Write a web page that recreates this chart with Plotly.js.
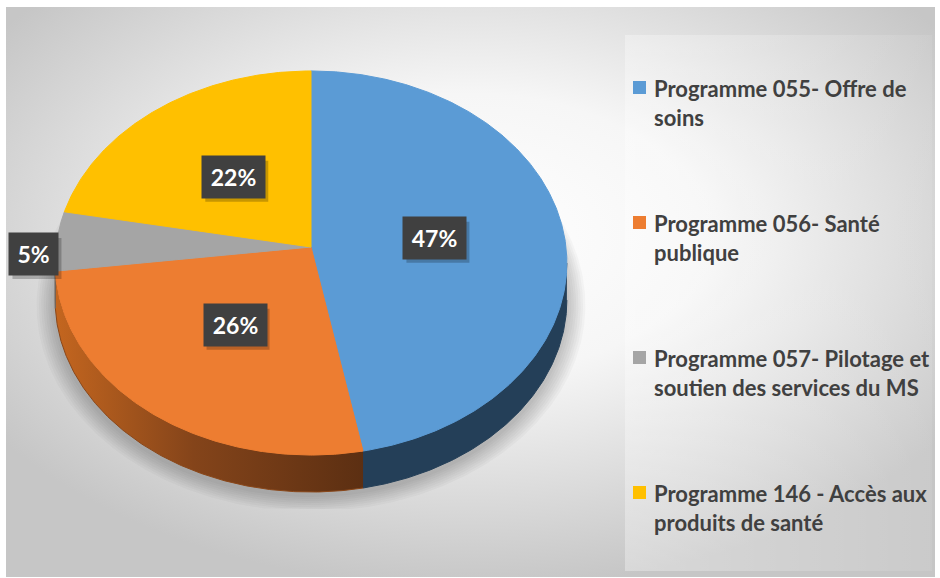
<!DOCTYPE html>
<html>
<head>
<meta charset="utf-8">
<script src="https://cdn.plot.ly/plotly-3.0.1.min.js"></script>
<style>html,body{margin:0;padding:0;background:#fff;}#chart{width:940px;height:578px;}</style>
</head>
<body>
<div id="chart"></div>
<script>
// ---- data ----
const categories = [
  'Programme 055- Offre de<br>soins',
  'Programme 056- Santé<br>publique',
  'Programme 057- Pilotage et<br>soutien des services du MS',
  'Programme 146 - Accès aux<br>produits de santé'
];
const shares = [47, 26, 5, 22];
const topColors = ['#5b9bd5', '#ed7d31', '#a5a5a5', '#ffc000'];
const sideColors = ['#243f58', '#8a4719', '#6b6b6b', '#a07800'];

// ---- geometry (3D perspective pie) ----
const CX = 311, CY = 247, A = 255, B = 190.7, K = -0.0833, DEPTH = 37;
function proj(deg, r, dy) {
  const t = deg * Math.PI / 180;
  const X = r * Math.sin(t), Y = -r * Math.cos(t);
  const d = 1 + K * Y;
  return [CX + A * X / d, CY + B * Y / d + (dy || 0)];
}
function arc(a0, a1, r, dy) {
  const pts = [];
  const n = Math.max(2, Math.ceil(Math.abs(a1 - a0) / 0.5));
  for (let i = 0; i <= n; i++) pts.push(proj(a0 + (a1 - a0) * i / n, r, dy));
  return pts;
}
let thR = 90, thL = 270, maxX = -1e9, minX = 1e9;
for (let th = 0; th < 360; th += 0.1) {
  const p = proj(th, 1, 0);
  if (p[0] > maxX) { maxX = p[0]; thR = th; }
  if (p[0] < minX) { minX = p[0]; thL = th; }
}

const total = shares.reduce((s, v) => s + v, 0);
const traces = [];

// soft shadow under the pie
for (let k = 8; k >= 1; k--) {
  const r = 1 + k * 0.009;
  const pts = arc(0, 360, r, DEPTH + 3).map(p => [p[0], Math.min(p[1], 509)]);
  traces.push({
    x: pts.map(p => p[0]), y: pts.map(p => p[1]), mode: 'lines', fill: 'toself',
    fillcolor: 'rgba(0,0,0,0.028)', line: {width: 0}, hoverinfo: 'skip'
  });
}

// side walls
let acc = 0;
const bounds = shares.map(v => { const a0 = acc / total * 360; acc += v; return [a0, acc / total * 360]; });
bounds.forEach(([a0, a1], i) => {
  const s = Math.max(a0, thR), e = Math.min(a1, thL);
  if (e <= s) return;
  const pts = arc(s, e, 1, 0).concat(arc(e, s, 1, DEPTH));
  const tr = {
    x: pts.map(p => p[0]), y: pts.map(p => p[1]), mode: 'lines', fill: 'toself',
    fillcolor: sideColors[i], line: {width: 1, color: sideColors[i]}, hoverinfo: 'skip'
  };
  if (i === 1) {
    tr.fillgradient = {type: 'horizontal', colorscale: [[0, '#c4661f'], [0.45, '#84441a'], [1, '#5c2f12']]};
  }
  traces.push(tr);
});

// top faces
bounds.forEach(([a0, a1], i) => {
  const pts = [[CX, CY]].concat(arc(a0, a1, 1, 0)).concat([[CX, CY]]);
  traces.push({
    x: pts.map(p => p[0]), y: pts.map(p => p[1]), mode: 'lines', fill: 'toself',
    fillcolor: topColors[i], line: {width: 1, color: topColors[i]},
    name: categories[i].replace('<br>', ' '), hoverinfo: 'skip'
  });
});

// data labels (dark boxes with drop shadow)
const annotations = [];
const shapes = [];
bounds.forEach(([a0, a1], i) => {
  const mid = (a0 + a1) / 2;
  const outside = shares[i] < 10;
  const p = proj(mid, outside ? 1.09 : 0.49, outside ? 14 : 0);
  const txt = Math.round(shares[i] / total * 100) + '%';
  const w = 14 * txt.length + 7;
  const bw = w + 14, bh = 41;
  shapes.push({type: 'rect', xref: 'x', yref: 'y', layer: 'above',
    x0: p[0] - bw / 2 + 3, x1: p[0] + bw / 2 + 3, y0: p[1] - bh / 2 + 4, y1: p[1] + bh / 2 + 4,
    fillcolor: 'rgba(0,0,0,0.22)', line: {width: 0}});
  annotations.push({x: p[0], y: p[1], xref: 'x', yref: 'y', showarrow: false,
    width: w, borderpad: 7, xanchor: 'center', yanchor: 'middle',
    text: '<b>' + txt + '</b>', bgcolor: '#404040',
    font: {family: 'Lato, sans-serif', size: 23, color: '#ffffff'}});
});

// legend (text + colour squares)
const LEG_X = 633, LEG_Y = 102.5, LEG_STEP = 135;
categories.forEach((c, i) => {
  const cy = LEG_Y + i * LEG_STEP;
  shapes.push({type: 'rect', xref: 'x', yref: 'y', x0: LEG_X, x1: LEG_X + 13,
    y0: cy - 21.5, y1: cy - 8.5, fillcolor: topColors[i], line: {width: 0}});
  annotations.push({x: LEG_X + 19, y: cy, xref: 'x', yref: 'y', showarrow: false,
    xanchor: 'left', yanchor: 'middle', align: 'left', text: '<b>' + c + '</b>',
    font: {family: 'Lato, sans-serif', size: 22, color: '#404040'}});
});

// background
const svg = '<svg xmlns="http://www.w3.org/2000/svg" width="940" height="578">' +
  '<defs><radialGradient id="g" cx="0.5" cy="0.4" r="0.62">' +
  '<stop offset="0" stop-color="#ffffff"/><stop offset="0.4" stop-color="#f6f6f6"/>' +
  '<stop offset="1" stop-color="#c6c6c6"/></radialGradient>' +
  '<linearGradient id="l" x1="0" y1="0" x2="1" y2="0">' +
  '<stop offset="0" stop-color="#ffffff" stop-opacity="0.32"/>' +
  '<stop offset="1" stop-color="#ffffff" stop-opacity="0.08"/></linearGradient></defs>' +
  '<rect x="0" y="0" width="940" height="578" fill="#ffffff"/>' +
  '<rect x="6" y="7" width="929" height="570" fill="url(#g)"/>' +
  '<rect x="625" y="35" width="307" height="536" fill="url(#l)"/>' +
  '</svg>';

const layout = {
  width: 940, height: 578,
  margin: {l: 0, r: 0, t: 0, b: 0},
  paper_bgcolor: '#ffffff', plot_bgcolor: 'rgba(0,0,0,0)',
  showlegend: false, hovermode: false,
  xaxis: {range: [0, 940], autorange: false, visible: false, fixedrange: true},
  yaxis: {range: [578, 0], autorange: false, visible: false, fixedrange: true},
  images: [{source: 'data:image/svg+xml;charset=utf-8,' + encodeURIComponent(svg),
    xref: 'paper', yref: 'paper', x: 0, y: 1, sizex: 1, sizey: 1,
    sizing: 'stretch', layer: 'below', xanchor: 'left', yanchor: 'top'}],
  shapes: shapes,
  annotations: annotations
};
Plotly.newPlot('chart', traces, layout, {displayModeBar: false, staticPlot: true});
</script>
</body>
</html>
